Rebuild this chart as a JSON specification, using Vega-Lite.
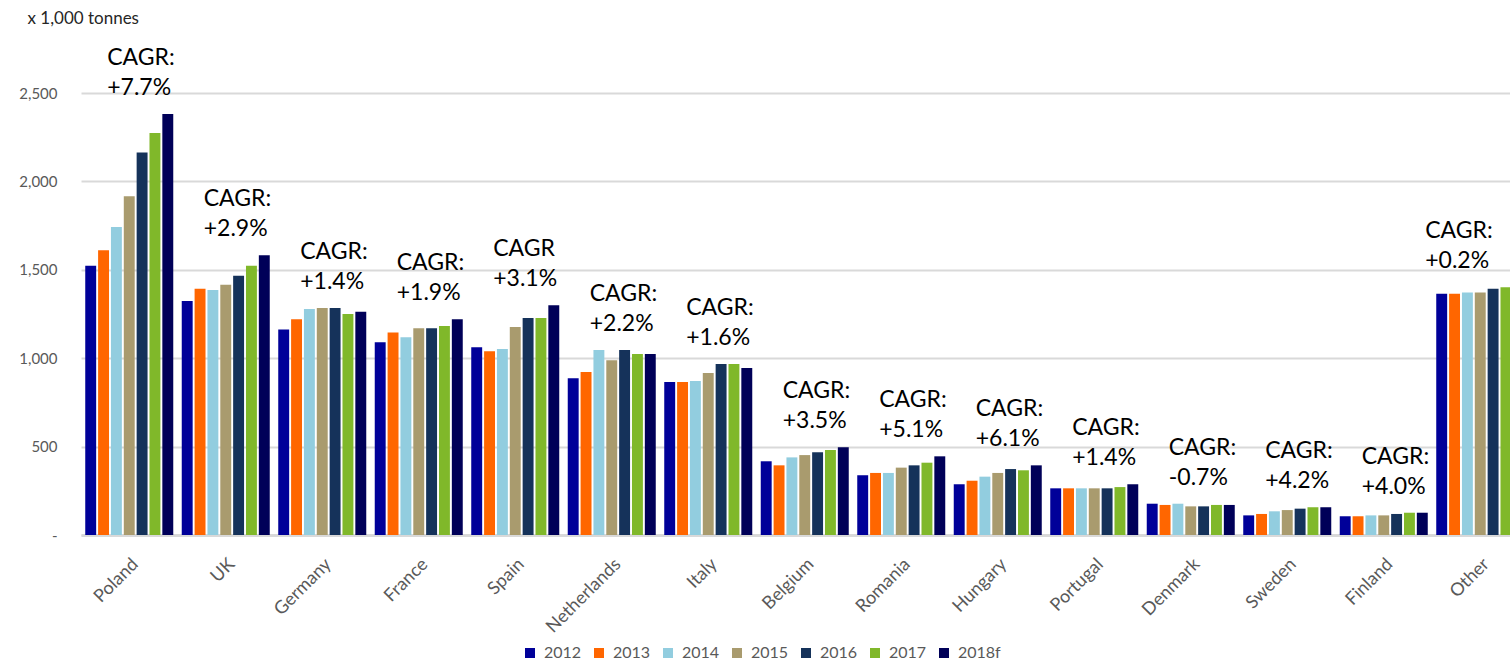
{
  "$schema": "https://vega.github.io/schema/vega-lite/v6.json",
  "autosize": {"type": "none"},
  "width": 1429,
  "height": 442,
  "padding": {"left": 81, "top": 93, "right": 0, "bottom": 126},
  "background": "white",
  "config": {"view": {"stroke": null}, "font": "Lato"},
  "datasets": {
    "bars": [
      {"country":"Poland","year":"2012","value":1523},{"country":"Poland","year":"2013","value":1610},{"country":"Poland","year":"2014","value":1742},{"country":"Poland","year":"2015","value":1916},{"country":"Poland","year":"2016","value":2164},{"country":"Poland","year":"2017","value":2274},{"country":"Poland","year":"2018f","value":2381},
      {"country":"UK","year":"2012","value":1323},{"country":"UK","year":"2013","value":1393},{"country":"UK","year":"2014","value":1386},{"country":"UK","year":"2015","value":1416},{"country":"UK","year":"2016","value":1467},{"country":"UK","year":"2017","value":1523},{"country":"UK","year":"2018f","value":1582},
      {"country":"Germany","year":"2012","value":1163},{"country":"Germany","year":"2013","value":1220},{"country":"Germany","year":"2014","value":1278},{"country":"Germany","year":"2015","value":1284},{"country":"Germany","year":"2016","value":1284},{"country":"Germany","year":"2017","value":1250},{"country":"Germany","year":"2018f","value":1263},
      {"country":"France","year":"2012","value":1090},{"country":"France","year":"2013","value":1146},{"country":"France","year":"2014","value":1118},{"country":"France","year":"2015","value":1169},{"country":"France","year":"2016","value":1169},{"country":"France","year":"2017","value":1182},{"country":"France","year":"2018f","value":1220},
      {"country":"Spain","year":"2012","value":1062},{"country":"Spain","year":"2013","value":1039},{"country":"Spain","year":"2014","value":1052},{"country":"Spain","year":"2015","value":1176},{"country":"Spain","year":"2016","value":1227},{"country":"Spain","year":"2017","value":1227},{"country":"Spain","year":"2018f","value":1299},
      {"country":"Netherlands","year":"2012","value":886},{"country":"Netherlands","year":"2013","value":922},{"country":"Netherlands","year":"2014","value":1046},{"country":"Netherlands","year":"2015","value":988},{"country":"Netherlands","year":"2016","value":1046},{"country":"Netherlands","year":"2017","value":1024},{"country":"Netherlands","year":"2018f","value":1024},
      {"country":"Italy","year":"2012","value":865},{"country":"Italy","year":"2013","value":865},{"country":"Italy","year":"2014","value":871},{"country":"Italy","year":"2015","value":916},{"country":"Italy","year":"2016","value":967},{"country":"Italy","year":"2017","value":967},{"country":"Italy","year":"2018f","value":945},
      {"country":"Belgium","year":"2012","value":417},{"country":"Belgium","year":"2013","value":394},{"country":"Belgium","year":"2014","value":439},{"country":"Belgium","year":"2015","value":452},{"country":"Belgium","year":"2016","value":468},{"country":"Belgium","year":"2017","value":481},{"country":"Belgium","year":"2018f","value":496},
      {"country":"Romania","year":"2012","value":338},{"country":"Romania","year":"2013","value":351},{"country":"Romania","year":"2014","value":351},{"country":"Romania","year":"2015","value":381},{"country":"Romania","year":"2016","value":394},{"country":"Romania","year":"2017","value":409},{"country":"Romania","year":"2018f","value":445},
      {"country":"Hungary","year":"2012","value":287},{"country":"Hungary","year":"2013","value":307},{"country":"Hungary","year":"2014","value":330},{"country":"Hungary","year":"2015","value":351},{"country":"Hungary","year":"2016","value":373},{"country":"Hungary","year":"2017","value":366},{"country":"Hungary","year":"2018f","value":394},
      {"country":"Portugal","year":"2012","value":264},{"country":"Portugal","year":"2013","value":264},{"country":"Portugal","year":"2014","value":264},{"country":"Portugal","year":"2015","value":264},{"country":"Portugal","year":"2016","value":264},{"country":"Portugal","year":"2017","value":271},{"country":"Portugal","year":"2018f","value":287},
      {"country":"Denmark","year":"2012","value":177},{"country":"Denmark","year":"2013","value":170},{"country":"Denmark","year":"2014","value":177},{"country":"Denmark","year":"2015","value":162},{"country":"Denmark","year":"2016","value":162},{"country":"Denmark","year":"2017","value":170},{"country":"Denmark","year":"2018f","value":170},
      {"country":"Sweden","year":"2012","value":111},{"country":"Sweden","year":"2013","value":119},{"country":"Sweden","year":"2014","value":134},{"country":"Sweden","year":"2015","value":141},{"country":"Sweden","year":"2016","value":149},{"country":"Sweden","year":"2017","value":157},{"country":"Sweden","year":"2018f","value":157},
      {"country":"Finland","year":"2012","value":106},{"country":"Finland","year":"2013","value":106},{"country":"Finland","year":"2014","value":111},{"country":"Finland","year":"2015","value":111},{"country":"Finland","year":"2016","value":119},{"country":"Finland","year":"2017","value":126},{"country":"Finland","year":"2018f","value":126},
      {"country":"Other","year":"2012","value":1365},{"country":"Other","year":"2013","value":1365},{"country":"Other","year":"2014","value":1371},{"country":"Other","year":"2015","value":1371},{"country":"Other","year":"2016","value":1393},{"country":"Other","year":"2017","value":1401},{"country":"Other","year":"2018f","value":1385}
    ],
    "cagr": [
      {"country":"Poland","label":"CAGR:\n+7.7%"},
      {"country":"UK","label":"CAGR:\n+2.9%"},
      {"country":"Germany","label":"CAGR:\n+1.4%"},
      {"country":"France","label":"CAGR:\n+1.9%"},
      {"country":"Spain","label":"CAGR\n+3.1%"},
      {"country":"Netherlands","label":"CAGR:\n+2.2%"},
      {"country":"Italy","label":"CAGR:\n+1.6%"},
      {"country":"Belgium","label":"CAGR:\n+3.5%"},
      {"country":"Romania","label":"CAGR:\n+5.1%"},
      {"country":"Hungary","label":"CAGR:\n+6.1%"},
      {"country":"Portugal","label":"CAGR:\n+1.4%"},
      {"country":"Denmark","label":"CAGR:\n-0.7%"},
      {"country":"Sweden","label":"CAGR:\n+4.2%"},
      {"country":"Finland","label":"CAGR:\n+4.0%"},
      {"country":"Other","label":"CAGR:\n+0.2%"}
    ]
  },
  "encoding": {
    "x": {
      "field": "country", "type": "nominal", "sort": null,
      "scale": {"range": [0, 1447.5], "paddingInner": 0.088, "paddingOuter": 0.044},
      "axis": {
        "title": null, "labelAngle": -45, "labelFontSize": 18, "labelColor": "#595959",
        "labelPadding": 20, "ticks": false, "domainColor": "#d9d9d9", "domainWidth": 3, "grid": false
      }
    },
    "y": {
      "field": "value", "type": "quantitative",
      "scale": {"domain": [0, 2500], "nice": false},
      "axis": {
        "values": [0, 500, 1000, 1500, 2000, 2500],
        "labelExpr": "datum.value == 0 ? '-' : format(datum.value, ',')",
        "labelFontSize": 15, "labelColor": "#595959", "labelPadding": 24,
        "domain": false, "ticks": false, "gridColor": "#d9d9d9", "gridWidth": 2,
        "title": "x 1,000 tonnes", "titleAngle": 0, "titleX": -54, "titleY": -75,
        "titleAlign": "left", "titleBaseline": "middle", "titleFontWeight": "normal",
        "titleFontSize": 17, "titleColor": "#262626"
      }
    }
  },
  "layer": [
    {
      "data": {"name": "bars"},
      "mark": {"type": "bar", "clip": true},
      "encoding": {
        "xOffset": {"field": "year", "type": "nominal", "scale": {"paddingInner": 0.15, "paddingOuter": 0}},
        "color": {
          "field": "year", "type": "nominal",
          "scale": {
            "domain": ["2012", "2013", "2014", "2015", "2016", "2017", "2018f"],
            "range": ["#000099", "#ff6600", "#92cddf", "#a99b6e", "#15325a", "#80b82a", "#000058"]
          },
          "legend": {
            "title": null, "orient": "none", "direction": "horizontal", "columns": 7,
            "legendX": 441, "legendY": 552, "symbolType": "square", "symbolSize": 100,
            "symbolStrokeWidth": 0, "labelFontSize": 16, "labelColor": "#595959",
            "labelOffset": 6, "columnPadding": 9
          }
        }
      }
    },
    {
      "data": {"name": "bars"},
      "transform": [
        {"aggregate": [{"op": "max", "field": "value", "as": "value"}], "groupby": ["country"]},
        {"filter": "datum.country != 'Other'"},
        {"lookup": "country", "from": {"data": {"name": "cagr"}, "key": "country", "fields": ["label"]}}
      ],
      "mark": {"type": "text", "align": "left", "baseline": "bottom", "dx": -22, "dy": -44, "fontSize": 23, "lineHeight": 30, "lineBreak": "\n", "color": "#000000"},
      "encoding": {
        "text": {"field": "label", "type": "nominal"}
      }
    },
    {
      "data": {"name": "bars"},
      "transform": [
        {"aggregate": [{"op": "max", "field": "value", "as": "value"}], "groupby": ["country"]},
        {"filter": "datum.country == 'Other'"},
        {"lookup": "country", "from": {"data": {"name": "cagr"}, "key": "country", "fields": ["label"]}}
      ],
      "mark": {"type": "text", "align": "left", "baseline": "bottom", "dx": -55, "dy": -44, "fontSize": 23, "lineHeight": 30, "lineBreak": "\n", "color": "#000000"},
      "encoding": {
        "text": {"field": "label", "type": "nominal"}
      }
    }
  ]
}
